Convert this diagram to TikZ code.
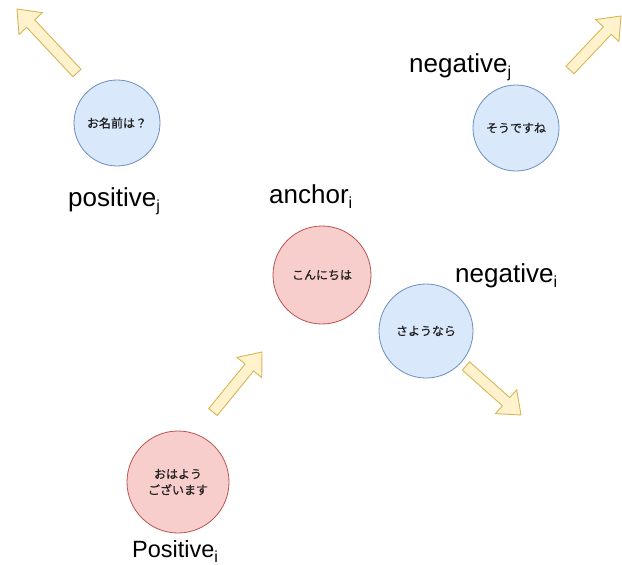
\documentclass[tikz,border=0pt]{standalone}
\usepackage{fontspec}
\setmainfont{Liberation Sans}
\newfontfamily\jpfont[FakeBold=0.5]{Noto Sans CJK JP}
\usetikzlibrary{calc}

\definecolor{bluefill}{HTML}{DAE8FC}
\definecolor{bluedraw}{HTML}{6C8EBF}
\definecolor{redfill}{HTML}{F8CECC}
\definecolor{reddraw}{HTML}{B85450}
\definecolor{arrowfill}{HTML}{FFF2CC}
\definecolor{arrowdraw}{HTML}{D6B656}
\definecolor{jptext}{HTML}{222222}

% block arrow from tail #1 to tip #2
\newcommand\flexarrow[2]{%
  \coordinate (hb) at ($(#2)!20pt!(#1)$);
  \draw[flexstyle]
    ($(#1)!5.5pt!90:(#2)$) -- ($(hb)!5.5pt!-90:(#1)$) -- ($(hb)!16pt!-90:(#1)$)
    -- (#2) -- ($(hb)!16pt!90:(#1)$) -- ($(hb)!5.5pt!90:(#1)$)
    -- ($(#1)!5.5pt!-90:(#2)$) -- cycle;
}

\tikzset{
  circbase/.style={circle, line width=0.8pt, inner sep=0pt, text=jptext,
    font=\jpfont\fontsize{12}{16}\selectfont, align=center},
  bluecirc/.style={circbase, draw=bluedraw, fill=bluefill},
  redcirc/.style={circbase, draw=reddraw, fill=redfill},
  flexstyle/.style={draw=arrowdraw, fill=arrowfill, line width=0.9pt, line join=miter},
  lbl/.style={anchor=base west, inner sep=0pt, font=\fontsize{26}{30}\selectfont},
}
\newcommand\sub[1]{\raisebox{-0.22em}{\fontsize{16}{18}\selectfont #1}}

\begin{document}
\begin{tikzpicture}[x=1pt,y=-1pt]
  \useasboundingbox (0,0) rectangle (622,565);

  % circles
  \node[bluecirc, minimum size=86pt] (namae) at (117,123) {お名前は？};
  \node[bluecirc, minimum size=86pt] (soudesu) at (516,128) {そうですね};
  \node[redcirc, minimum size=98pt] (konnichi) at (322,275) {こんにちは};
  \node[bluecirc, minimum size=94pt] (sayonara) at (426,331) {さようなら};
  \node[redcirc, minimum size=102pt] (ohayo) at (178,482) {おはよう\\ございます};

  % labels
  \node[lbl] (lposj) at (68,206) {positive\sub{j}};
  \node[lbl] (lnegj) at (409,72) {negative\sub{j}};
  \node[lbl] (lanc) at (269,203) {anchor\sub{i}};
  \node[lbl] (lnegi) at (455,282) {negative\sub{i}};
  \node[lbl, font=\fontsize{23.5}{28}\selectfont] (lposi) at (132,557) {Positive\sub{i}};

  % block arrows
  \coordinate (a1t) at (77,73);   \coordinate (a1h) at (17,9);
  \coordinate (a2t) at (570,70);  \coordinate (a2h) at (621,16);
  \coordinate (a3t) at (213,412); \coordinate (a3h) at (262,352);
  \coordinate (a4t) at (466,366); \coordinate (a4h) at (521,415);
  \flexarrow{a1t}{a1h}
  \flexarrow{a2t}{a2h}
  \flexarrow{a3t}{a3h}
  \flexarrow{a4t}{a4h}
\end{tikzpicture}
\end{document}
